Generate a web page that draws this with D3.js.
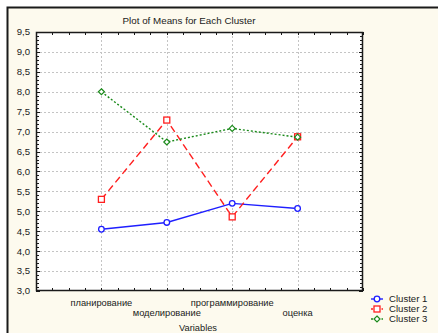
<!DOCTYPE html>
<html>
<head>
<meta charset="utf-8">
<script src="https://cdn.jsdelivr.net/npm/d3@7/dist/d3.min.js"></script>
<style>
  html, body { margin: 0; padding: 0; background: #ffffff; }
  svg text { font-family: "Liberation Sans", Arial, sans-serif; fill: #1a1a1a; }
</style>
</head>
<body>
<svg id="chart" width="438" height="333"></svg>
<script>
// Variables on the horizontal axis
const variables = ["планирование", "моделирование", "программирование", "оценка"];
// Cluster means per variable
const cluster1 = [4.55, 4.72, 5.20, 5.07];
const cluster2 = [5.30, 7.29, 4.86, 6.87];
const cluster3 = [8.00, 6.74, 7.08, 6.86];
const seriesNames = ["Cluster 1", "Cluster 2", "Cluster 3"];
const yTicks = [3.0, 3.5, 4.0, 4.5, 5.0, 5.5, 6.0, 6.5, 7.0, 7.5, 8.0, 8.5, 9.0, 9.5];

const svg = d3.select("#chart");
const W = 438, H = 333;
const plot = { left: 36, right: 363, top: 32, bottom: 291 };

// Beige panel with a dark frame on the top and left
svg.append("rect").attr("x", 7).attr("y", 7).attr("width", W - 7).attr("height", H - 7)
  .attr("fill", "#fdfaee");
svg.append("path").attr("d", `M7.5,${H} V7.5 H${W}`)
  .attr("fill", "none").attr("stroke", "#1a1a1a").attr("stroke-width", 2);

const locale = d3.formatLocale({ decimal: ",", thousands: " ", grouping: [3], currency: ["", ""] });
const fmt = locale.format(".1f");

// Categories sit at positions 1..4 of a 0..5 axis
const x = d3.scaleLinear().domain([0, variables.length + 1]).range([plot.left, plot.right]);
const y = d3.scaleLinear().domain([3.0, 9.5]).range([plot.bottom, plot.top]);

svg.append("rect").attr("x", plot.left).attr("y", plot.top)
  .attr("width", plot.right - plot.left).attr("height", plot.bottom - plot.top)
  .attr("fill", "#ffffff");

// Grid lines
const grid = svg.append("g").attr("stroke", "#c4c4c4").attr("stroke-dasharray", "2,2").attr("stroke-width", 1);
yTicks.slice(1, -1).forEach(v => {
  grid.append("line").attr("x1", plot.left).attr("x2", plot.right)
    .attr("y1", Math.round(y(v)) + 0.5).attr("y2", Math.round(y(v)) + 0.5);
});
variables.forEach((v, i) => {
  grid.append("line").attr("y1", plot.top).attr("y2", plot.bottom)
    .attr("x1", Math.round(x(i + 1)) + 0.5).attr("x2", Math.round(x(i + 1)) + 0.5);
});

// Inward ticks on all four sides
const ticks = svg.append("g").attr("stroke", "#1a1a1a").attr("stroke-width", 1);
for (let k = 0; k <= 65; k++) {
  const v = 3.0 + k * 0.1;
  const yy = Math.round(y(v)) + 0.5;
  const len = (k % 5 === 0) ? 4 : 3;
  ticks.append("line").attr("x1", plot.left).attr("x2", plot.left + len).attr("y1", yy).attr("y2", yy);
  ticks.append("line").attr("x1", plot.right).attr("x2", plot.right - len).attr("y1", yy).attr("y2", yy);
}
for (let k = 0; k <= (variables.length + 1) * 4; k++) {
  const xx = Math.round(x(k / 4)) + 0.5;
  ticks.append("line").attr("x1", xx).attr("x2", xx).attr("y1", plot.top).attr("y2", plot.top + 3);
  ticks.append("line").attr("x1", xx).attr("x2", xx).attr("y1", plot.bottom).attr("y2", plot.bottom - 3);
}

// Plot frame
svg.append("rect").attr("x", plot.left + 0.5).attr("y", plot.top + 0.5)
  .attr("width", plot.right - plot.left - 1).attr("height", plot.bottom - plot.top - 1)
  .attr("fill", "none").attr("stroke", "#1a1a1a").attr("stroke-width", 1.5);

// Y tick labels
svg.append("g").selectAll("text").data(yTicks).join("text")
  .attr("x", 30).attr("y", d => y(d)).attr("dy", "0.35em")
  .attr("text-anchor", "end").attr("font-size", 9.6).text(d => fmt(d));

// Staggered category labels
svg.append("g").selectAll("text").data(variables).join("text")
  .attr("x", (d, i) => x(i + 1)).attr("y", (d, i) => i % 2 === 0 ? 305.5 : 315.5)
  .attr("text-anchor", "middle").attr("font-size", 9.3).text(d => d);

svg.append("text").attr("x", 198).attr("y", 330.5).attr("text-anchor", "middle")
  .attr("font-size", 9.3).text("Variables");

svg.append("text").attr("x", 189).attr("y", 23.5).attr("text-anchor", "middle")
  .attr("font-size", 9.8).text("Plot of Means for Each Cluster");

// Series
const styles = [
  { color: "#1f1fff", dash: null, shape: "circle" },
  { color: "#ff1f1f", dash: "7,4", shape: "square" },
  { color: "#1a8a1a", dash: "2,2", shape: "diamond" }
];
const data = [cluster1, cluster2, cluster3];
const line = d3.line().x((d, i) => x(i + 1)).y(d => y(d));

function marker(g, shape, cx, cy, color) {
  if (shape === "circle") {
    g.append("circle").attr("cx", cx).attr("cy", cy).attr("r", 2.8)
      .attr("fill", "#fff").attr("stroke", color).attr("stroke-width", 1.3);
  } else if (shape === "square") {
    g.append("rect").attr("x", cx - 3).attr("y", cy - 3).attr("width", 6).attr("height", 6)
      .attr("fill", "#fff").attr("stroke", color).attr("stroke-width", 1.3);
  } else {
    g.append("path").attr("d", `M${cx},${cy - 3} L${cx + 3},${cy} L${cx},${cy + 3} L${cx - 3},${cy} Z`)
      .attr("fill", "#fff").attr("stroke", color).attr("stroke-width", 1.2);
  }
}

data.forEach((vals, s) => {
  const st = styles[s];
  const g = svg.append("g");
  g.append("path").datum(vals).attr("d", line).attr("fill", "none")
    .attr("stroke", st.color).attr("stroke-width", 1.4)
    .attr("stroke-dasharray", st.dash);
  vals.forEach((v, i) => marker(g, st.shape, x(i + 1), y(v), st.color));
});

// Legend
seriesNames.forEach((name, s) => {
  const st = styles[s];
  const ly = 299 + s * 10;
  const g = svg.append("g");
  g.append("line").attr("x1", 371).attr("x2", 383).attr("y1", ly).attr("y2", ly)
    .attr("stroke", st.color).attr("stroke-width", 1.4).attr("stroke-dasharray", st.dash ? "2,1.5" : null);
  marker(g, st.shape, 377, ly, st.color);
  g.append("text").attr("x", 389).attr("y", ly).attr("dy", "0.35em")
    .attr("font-size", 9.6).text(name);
});
</script>
</body>
</html>
